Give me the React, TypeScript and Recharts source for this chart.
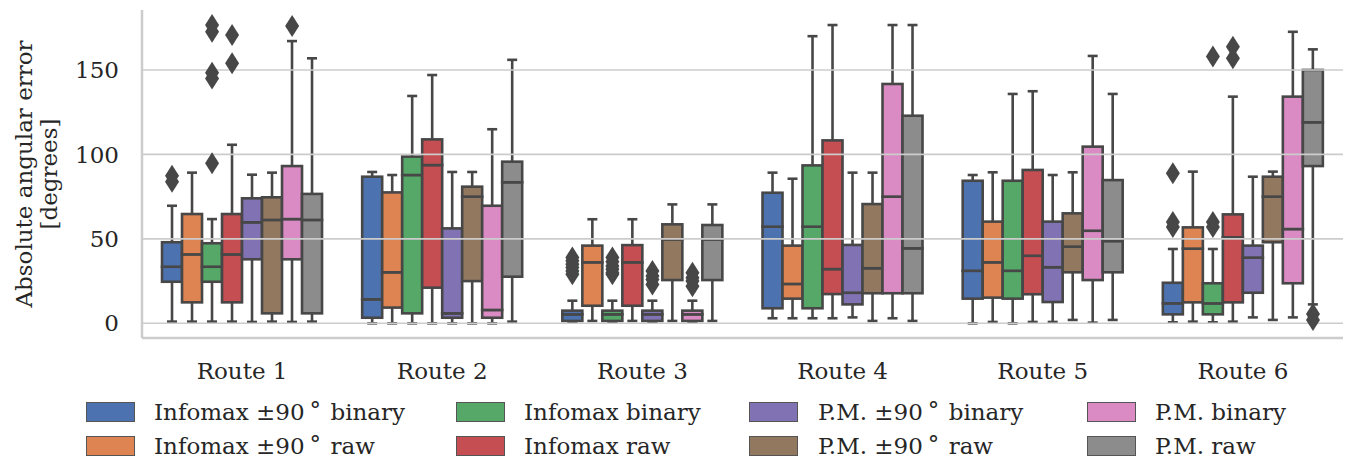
import { ComposedChart, Bar, Scatter, XAxis, YAxis, ReferenceLine } from "recharts";

// box stats per route: [whisker low, q1, median, q3, whisker high]
const routes = ["Route 1", "Route 2", "Route 3", "Route 4", "Route 5", "Route 6"];

const seriesNames = [
  "Infomax ±90° binary",
  "Infomax ±90° raw",
  "Infomax binary",
  "Infomax raw",
  "P.M. ±90° binary",
  "P.M. ±90° raw",
  "P.M. binary",
  "P.M. raw",
];

const colors = ["#4c72b0", "#dd8452", "#55a868", "#c44e52", "#8172b3", "#937860", "#da8bc3", "#8c8c8c"];

const infomax90Binary = [
  [1, 24.6, 33.5, 48, 69.6],
  [0, 3.3, 14.2, 86.8, 89.6],
  [0.8, 1.4, 5.3, 7.5, 13.4],
  [3, 8.9, 57.2, 77.3, 89.2],
  [0, 14.6, 31.1, 84.4, 87.8],
  [0.6, 5.3, 11.8, 24, 44],
];
const infomax90Raw = [
  [1, 12.4, 40.8, 64.7, 89.2],
  [0, 9.3, 30.2, 77.5, 87.8],
  [1.4, 10.4, 36.1, 46, 61.6],
  [3, 14.6, 23.3, 46, 85.6],
  [0.8, 15.2, 36.1, 60.2, 89.4],
  [1, 12.4, 44.2, 56.8, 89.8],
];
const infomaxBinary = [
  [1, 24.6, 33.5, 47.4, 61.7],
  [0, 5.9, 87.8, 98.7, 134.6],
  [0.8, 1.4, 5.3, 7.5, 13.4],
  [3, 8.9, 57.2, 93.5, 170],
  [0, 14.6, 31.1, 84.4, 135.8],
  [0.6, 5.3, 11.8, 23.7, 44],
];
const infomaxRaw = [
  [1, 12.4, 40.8, 64.7, 105.7],
  [0, 21.1, 93.7, 108.9, 147],
  [1.4, 10.4, 36.1, 46.3, 61.6],
  [3, 17.3, 32.1, 108.3, 176.6],
  [0.8, 17.2, 40, 90.8, 137.4],
  [1, 12.4, 50.9, 64.5, 134.2],
];
const pm90Binary = [
  [0.8, 37.9, 59.8, 74, 88],
  [0, 3.3, 5.9, 56.2, 89.6],
  [0.8, 1.4, 5.3, 7.5, 13.4],
  [3.5, 11.2, 18.1, 46.4, 89.2],
  [0.8, 12.6, 33.2, 60.2, 87.8],
  [3.5, 18.1, 38.9, 46, 86.8],
];
const pm90Raw = [
  [1, 5.9, 61.2, 74.6, 89.2],
  [0, 25, 75, 80.9, 89.6],
  [1.4, 25.6, 49.7, 58.6, 70.4],
  [1.4, 17.8, 32.6, 70.6, 89.2],
  [2, 30.2, 45.4, 65.1, 89.4],
  [2, 48, 75, 86.8, 89.8],
];
const pmBinary = [
  [0.8, 37.9, 61.7, 93.1, 167.1],
  [0, 3.3, 7.9, 69.6, 114.9],
  [0.8, 1.4, 5.3, 7.5, 13.4],
  [3, 17.8, 75, 141.7, 176.6],
  [0.4, 25.6, 54.8, 104.6, 158.3],
  [3.5, 23.7, 55.8, 134.2, 172.6],
];
const pmRaw = [
  [1, 5.9, 61.2, 76.6, 156.9],
  [1, 27.6, 83.5, 95.7, 156],
  [1.4, 25.6, 49.7, 58.2, 70.4],
  [1.4, 17.8, 44.4, 122.9, 176.6],
  [2, 30.2, 48.7, 84.8, 135.8],
  [11.2, 93.1, 119, 150, 162.2],
];

const seriesStats = [infomax90Binary, infomax90Raw, infomaxBinary, infomaxRaw, pm90Binary, pm90Raw, pmBinary, pmRaw];

// outliers: [route index, series index, value]
const outliers = [
  [0, 0, 87.4], [0, 0, 83.8],
  [0, 2, 176.6], [0, 2, 172.6], [0, 2, 148.4], [0, 2, 145], [0, 2, 94.7],
  [0, 3, 170.7], [0, 3, 153.9],
  [0, 6, 176],
  [2, 0, 39], [2, 0, 37], [2, 0, 35], [2, 0, 33], [2, 0, 31], [2, 0, 29],
  [2, 2, 39], [2, 2, 36.5], [2, 2, 34], [2, 2, 32], [2, 2, 30], [2, 2, 29],
  [2, 4, 31], [2, 4, 28], [2, 4, 26], [2, 4, 23],
  [2, 6, 30], [2, 6, 27], [2, 6, 25], [2, 6, 22],
  [5, 0, 88.8], [5, 0, 60], [5, 0, 57],
  [5, 2, 157.9], [5, 2, 60], [5, 2, 57],
  [5, 3, 163.8], [5, 3, 157],
  [5, 7, 5.5], [5, 7, 2],
];

const yTicks = [0, 50, 100, 150];

const LINE = "#474747";
const SPINE = "#cccccc";
const FONT = "DejaVu Serif";

const tableData = routes.map((route, r) => {
  const row: Record<string, any> = { route };
  seriesStats.forEach((stats, i) => {
    const [lo, q1, med, q3, hi] = stats[r];
    row[`s${i}_base`] = lo;
    row[`s${i}_lw`] = q1 - lo;
    row[`s${i}_b1`] = med - q1;
    row[`s${i}_b2`] = q3 - med;
    row[`s${i}_uw`] = hi - q3;
  });
  return row;
});

const outlierData = outliers.map(([r, s, v]) => ({ x: r - 0.35 + 0.1 * s, y: v }));

const Empty = () => <g />;

const BoxPart = (props: any) => {
  const { x, y, width, height, fill } = props;
  if (height == null || isNaN(height)) return <g />;
  return <rect x={x} y={y} width={width} height={Math.max(height, 0)} fill={fill} stroke={LINE} strokeWidth={2.6} />;
};

const LowerWhisker = (props: any) => {
  const { x, y, width, height } = props;
  const cx = x + width / 2;
  const yb = y + height;
  return (
    <g stroke={LINE} strokeWidth={2.6}>
      <line x1={cx} x2={cx} y1={y} y2={yb} />
      <line x1={cx - width / 4} x2={cx + width / 4} y1={yb} y2={yb} />
    </g>
  );
};

const UpperWhisker = (props: any) => {
  const { x, y, width, height } = props;
  const cx = x + width / 2;
  return (
    <g stroke={LINE} strokeWidth={2.6}>
      <line x1={cx} x2={cx} y1={y} y2={y + height} />
      <line x1={cx - width / 4} x2={cx + width / 4} y1={y} y2={y} />
    </g>
  );
};

const Diamond = (props: any) => {
  const { cx, cy } = props;
  return <polygon points={`${cx},${cy - 11} ${cx + 7},${cy} ${cx},${cy + 11} ${cx - 7},${cy}`} fill={LINE} />;
};

const YLabel = (props: any) => {
  const vb = props.viewBox || { x: 0, y: 10, width: 142, height: 328 };
  const cy = vb.y + vb.height / 2;
  return (
    <text transform={`translate(32, ${cy}) rotate(-90)`} textAnchor="middle" fontFamily={FONT} fontSize={23} fill="#262626">
      <tspan x={0} dy={0}>Absolute angular error</tspan>
      <tspan x={0} dy={25}>[degrees]</tspan>
    </text>
  );
};

const legendCols = [
  { swatch: 86, text: 154 },
  { swatch: 456, text: 524 },
  { swatch: 749, text: 818 },
  { swatch: 1087, text: 1155 },
];
const legendRows = [412, 446];

function LegendName({ name }: { name: string }) {
  const parts = name.split("°");
  if (parts.length < 2) return <>{name}</>;
  return (
    <>
      {parts[0]}
      <span style={{ marginLeft: 5, marginRight: 2, position: "relative", top: -2 }}>°</span>
      {parts[1]}
    </>
  );
}

export default function App() {
  return (
    <div style={{ position: "absolute", left: 0, top: 0, width: 1351, height: 462, background: "#fff" }}>
      <ComposedChart
        width={1351}
        height={462}
        data={tableData}
        margin={{ top: 10, right: 8, left: 0, bottom: 74 }}
        barCategoryGap="10%"
        barGap={0}
      >
        {yTicks.map((t) => (
          <ReferenceLine key={`g${t}`} y={t} stroke={SPINE} strokeWidth={1.6} />
        ))}
        <XAxis
          dataKey="route"
          height={50}
          tickLine={false}
          tickSize={0}
          tickMargin={25}
          axisLine={{ stroke: SPINE, strokeWidth: 2.5 }}
          tick={{ fontFamily: FONT, fontSize: 23, fill: "#262626" }}
        />
        <XAxis xAxisId="num" type="number" dataKey="x" domain={[-0.5, 5.5]} allowDataOverflow hide />
        <YAxis
          width={142}
          domain={[-8.7, 185.5]}
          ticks={yTicks}
          allowDataOverflow
          tickLine={false}
          tickSize={0}
          tickMargin={23}
          axisLine={{ stroke: SPINE, strokeWidth: 2.5 }}
          tick={{ fontFamily: FONT, fontSize: 23, fill: "#262626" }}
          label={<YLabel />}
        />
        {seriesNames.map((name, i) => [
          <Bar key={`${i}b`} dataKey={`s${i}_base`} stackId={`s${i}`} fill="transparent" shape={<Empty />} isAnimationActive={false} />,
          <Bar key={`${i}l`} dataKey={`s${i}_lw`} stackId={`s${i}`} fill={colors[i]} shape={<LowerWhisker />} isAnimationActive={false} />,
          <Bar key={`${i}1`} dataKey={`s${i}_b1`} stackId={`s${i}`} fill={colors[i]} shape={<BoxPart />} isAnimationActive={false} name={name} />,
          <Bar key={`${i}2`} dataKey={`s${i}_b2`} stackId={`s${i}`} fill={colors[i]} shape={<BoxPart />} isAnimationActive={false} />,
          <Bar key={`${i}u`} dataKey={`s${i}_uw`} stackId={`s${i}`} fill={colors[i]} shape={<UpperWhisker />} isAnimationActive={false} />,
        ])}
        <Scatter xAxisId="num" data={outlierData} dataKey="y" shape={<Diamond />} isAnimationActive={false} />
      </ComposedChart>
      {seriesNames.map((name, i) => {
        const col = legendCols[Math.floor(i / 2)];
        const rowY = legendRows[i % 2];
        return (
          <div key={name}>
            <div
              style={{
                position: "absolute",
                left: col.swatch,
                top: rowY - 10,
                width: 49,
                height: 20,
                background: colors[i],
                border: "1px solid #555",
                boxSizing: "border-box",
              }}
            />
            <div
              style={{
                position: "absolute",
                left: col.text,
                top: rowY - 15,
                height: 30,
                lineHeight: "30px",
                fontFamily: FONT,
                fontSize: 23,
                color: "#262626",
                whiteSpace: "nowrap",
              }}
            >
              <LegendName name={name} />
            </div>
          </div>
        );
      })}
    </div>
  );
}
